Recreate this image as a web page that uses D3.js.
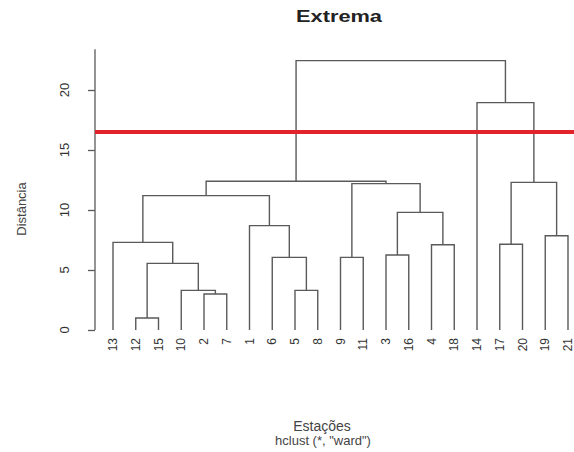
<!DOCTYPE html>
<html><head><meta charset="utf-8">
<script src="https://cdn.jsdelivr.net/npm/d3@7"></script>
<style>html,body{margin:0;padding:0;background:#fff;}svg{display:block;}</style>
</head><body>
<svg id="chart" width="574" height="452"></svg>
<script>
// Leaf order (left to right)
const leaves = ["13","12","15","10","2","7","1","6","5","8","9","11","3","16","4","18","14","17","20","19","21"];
// R-style merge matrix: negative = leaf label, positive = earlier merge step
const mergeA = [-12, -2, -10, -5, 1, -6, -9, -3, -4, -17, -13, -19, -1, 8, 11, 7, 10, 15, -14, 18];
const mergeB = [-15, -7, 2, -8, 3, 4, -11, -16, -18, -20, 5, -21, 6, 9, 13, 14, 12, 16, 17, 19];
const mergeHeight = [1.0, 3.0, 3.3, 3.3, 5.55, 6.05, 6.05, 6.25, 7.1, 7.15, 7.3, 7.85, 8.7, 9.8, 11.2, 12.2, 12.3, 12.4, 18.95, 22.45];
const yTicks = [0, 5, 10, 15, 20];
const cutHeight = 16.5;
const title = "Extrema";
const xLabel = "Estações";
const subLabel = "hclust (*, \"ward\")";
const yLabel = "Distância";

const svg = d3.select("#chart");
const x = d3.scalePoint().domain(leaves).range([113, 568]);
const y = d3.scaleLinear().domain([0, 20]).range([330, 90]);

// build nodes
const nodes = [];
function nodeOf(id) {
  if (id < 0) { const lab = String(-id); return { x: x(lab), h: 0, leaf: lab }; }
  return nodes[id - 1];
}
mergeA.forEach((a, i) => {
  const l = nodeOf(a), r = nodeOf(mergeB[i]);
  nodes.push({ x: (l.x + r.x) / 2, h: mergeHeight[i], children: [l, r] });
});

const g = svg.append("g").attr("fill", "none").attr("stroke", "#5a5a5a").attr("stroke-width", 1.4);
nodes.forEach(n => {
  const [l, r] = n.children;
  const path = d3.path();
  path.moveTo(l.x, y(l.h));
  path.lineTo(l.x, y(n.h));
  path.lineTo(r.x, y(n.h));
  path.lineTo(r.x, y(r.h));
  g.append("path").attr("d", path.toString());
});

// leaf labels
svg.append("g").selectAll("text").data(leaves).join("text")
  .attr("transform", d => `translate(${x(d) + 4},338) rotate(-90)`)
  .attr("text-anchor", "end")
  .attr("font-family", "Liberation Sans, Arial, sans-serif")
  .attr("font-size", 12)
  .attr("fill", "#333")
  .text(d => d);

// y axis
const axisX = 95;
const ax = svg.append("g").attr("transform", `translate(${axisX},0)`)
  .call(d3.axisLeft(y).tickValues(yTicks).tickSize(7).tickFormat(""));
ax.select(".domain").remove();
ax.selectAll(".tick line").attr("stroke", "#5a5a5a").attr("stroke-width", 1.3);
svg.append("line").attr("x1", axisX).attr("x2", axisX)
  .attr("y1", y(0)).attr("y2", y(23.4))
  .attr("stroke", "#5a5a5a").attr("stroke-width", 1.3);
svg.append("g").selectAll("text").data(yTicks).join("text")
  .attr("transform", d => `translate(69,${y(d)}) rotate(-90)`)
  .attr("text-anchor", "middle")
  .attr("font-family", "Liberation Sans, Arial, sans-serif")
  .attr("font-size", 13)
  .attr("fill", "#333")
  .text(d => d);

// cut line
svg.append("line").attr("x1", axisX).attr("x2", 574)
  .attr("y1", y(cutHeight)).attr("y2", y(cutHeight))
  .attr("stroke", "#e3232b").attr("stroke-width", 4);

// titles
svg.append("text").attr("x", 339).attr("y", 22).attr("text-anchor", "middle")
  .attr("font-family", "Liberation Sans, Arial, sans-serif").attr("font-weight", "bold")
  .attr("font-size", 16).attr("fill", "#222")
  .attr("textLength", 86).attr("lengthAdjust", "spacingAndGlyphs").text(title);
svg.append("text").attr("transform", "translate(26,209) rotate(-90)").attr("text-anchor", "middle")
  .attr("font-family", "Liberation Sans, Arial, sans-serif").attr("font-size", 13)
  .attr("fill", "#444").text(yLabel);
svg.append("text").attr("x", 322).attr("y", 431).attr("text-anchor", "middle")
  .attr("font-family", "Liberation Sans, Arial, sans-serif").attr("font-size", 14)
  .attr("fill", "#444").text(xLabel);
svg.append("text").attr("x", 323).attr("y", 445).attr("text-anchor", "middle")
  .attr("font-family", "Liberation Sans, Arial, sans-serif").attr("font-size", 13)
  .attr("fill", "#444").text(subLabel);
</script>
</body></html>
